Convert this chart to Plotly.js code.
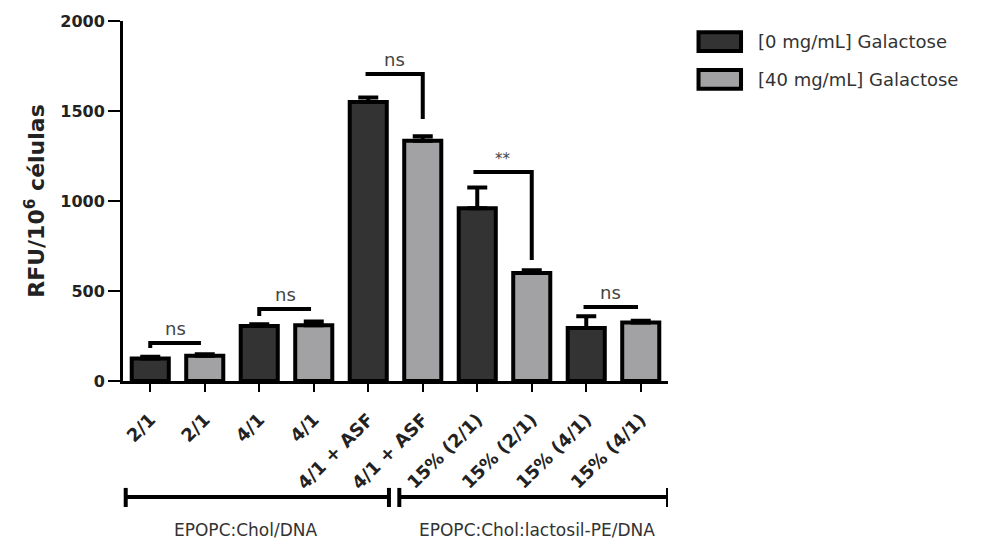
<!DOCTYPE html>
<html>
<head>
<meta charset="utf-8">
<script src="https://cdn.plot.ly/plotly-3.0.1.min.js"></script>
<style>html,body{margin:0;padding:0;background:#fff;}#chart{width:985px;height:545px;}</style>
</head>
<body>
<div id="chart"></div>
<script>
// ---- data ----
const tickLabels = ["2/1","2/1","4/1","4/1","4/1 + ASF","4/1 + ASF","15% (2/1)","15% (2/1)","15% (4/1)","15% (4/1)"];
const seriesNames = ["[0 mg/mL] Galactose","[40 mg/mL] Galactose"];
const xDark = [0,2,4,6,8];
const xLight = [1,3,5,7,9];
const valDark = [125,305,1550,960,295];
const errDark = [10,10,25,115,65];
const valLight = [140,310,1335,600,325];
const errLight = [8,20,25,15,10];
// significance brackets
const sigText = ["ns","ns","ns","**","ns"];
const sigX0 = [0,2,3.95,5.93,7.95];
const sigX1 = [0.93,2.95,5,7,8.95];
const sigY = [211,400,1706,1161,411];
const sigTickX = [0,2,5,7,null];
const sigTickEnd = [183,361,1456,672,null];
// groups under axis
const groupNames = ["EPOPC:Chol/DNA","EPOPC:Chol:lactosil-PE/DNA"];
const groupX0 = [-0.45,4.57];
const groupX1 = [4.38,9.5];
const groupTextX = [1.75,7.1];

const dark = '#333333', light = '#a2a2a5';
const F = '"DejaVu Sans", "Open Sans", sans-serif';

const traces = [
  {type:'bar', x:xDark, y:valDark, name:seriesNames[0], width:0.68,
   marker:{color:dark, line:{color:'#000', width:4}},
   error_y:{type:'data', array:errDark, arrayminus:errDark.map(()=>0), symmetric:false, color:'#000', thickness:4, width:10},
   showlegend:false},
  {type:'bar', x:xLight, y:valLight, name:seriesNames[1], width:0.68,
   marker:{color:light, line:{color:'#000', width:4}},
   error_y:{type:'data', array:errLight, arrayminus:errLight.map(()=>0), symmetric:false, color:'#000', thickness:4, width:10},
   showlegend:false}
];

const annotations = [];
for (let i = 0; i < sigText.length; i++) {
  const xs = [sigX0[i], sigX1[i]], ys = [sigY[i], sigY[i]];
  if (sigTickX[i] !== null) {
    if (sigTickX[i] <= sigX0[i]) { xs.unshift(sigTickX[i]); ys.unshift(sigTickEnd[i]); }
    else { xs.push(sigTickX[i]); ys.push(sigTickEnd[i]); }
  }
  traces.push({type:'scatter', mode:'lines', x:xs, y:ys, line:{color:'#000', width:4},
               hoverinfo:'skip', showlegend:false, cliponaxis:false});
  annotations.push({x:(sigX0[i]+sigX1[i])/2, y:sigY[i], xref:'x', yref:'y', text:sigText[i],
    showarrow:false, yanchor:'bottom', yshift:2,
    font:{family:F, size: sigText[i]==='**'?15:18, color:'#444'}});
}

const shapes = [];
for (let g = 0; g < groupNames.length; g++) {
  shapes.push({type:'line', xref:'x', yref:'paper', x0:groupX0[g], x1:groupX1[g], y0:-0.322, y1:-0.322, line:{color:'#000', width:4}});
  shapes.push({type:'line', xref:'x', yref:'paper', x0:groupX0[g], x1:groupX0[g], y0:-0.297, y1:-0.35, line:{color:'#000', width:4}});
  shapes.push({type:'line', xref:'x', yref:'paper', x0:groupX1[g], x1:groupX1[g], y0:-0.297, y1:-0.35, line:{color:'#000', width:4}});
  annotations.push({x:groupTextX[g], y:-0.415, xref:'x', yref:'paper', text:groupNames[g],
    showarrow:false, yanchor:'middle', font:{family:F, size:17, color:'#333'}});
}

// legend (drawn manually)
const legColors = [dark, light];
const legY = [0.943, 0.838];
for (let k = 0; k < seriesNames.length; k++) {
  shapes.push({type:'rect', xref:'paper', yref:'paper', x0:1.056, x1:1.134, y0:legY[k]-0.026, y1:legY[k]+0.026,
    fillcolor:legColors[k], line:{color:'#000', width:4}});
  annotations.push({xref:'paper', yref:'paper', x:1.162, y:legY[k], xanchor:'left', yanchor:'middle',
    text:seriesNames[k], showarrow:false, font:{family:F, size:18, color:'#333'}});
}

const layout = {
  width:985, height:545,
  margin:{l:123, r:317, t:21, b:164},
  paper_bgcolor:'#fff', plot_bgcolor:'#fff',
  showlegend:false,
  bargap:0,
  xaxis:{range:[-0.5,9.5], tickmode:'array', tickvals:tickLabels.map((_,i)=>i), ticktext:tickLabels,
    tickangle:-45, showline:true, linecolor:'#000', linewidth:3, ticks:'outside', ticklen:8, tickwidth:2,
    tickcolor:'#000', showgrid:false, zeroline:false, automargin:false, ticklabelstandoff:10,
    tickfont:{family:F, size:18, color:'#222', weight:'bold'}},
  yaxis:{range:[0,2000], tickvals:[0,500,1000,1500,2000], showline:true, linecolor:'#000', linewidth:3,
    ticks:'outside', ticklen:12, tickwidth:2, tickcolor:'#000', showgrid:false, zeroline:false, automargin:false,
    tickfont:{family:F, size:16, color:'#222', weight:'bold'},
    title:{text:'RFU/10<sup>6</sup> células', font:{family:F, size:22, color:'#222', weight:'bold'}, standoff:10}},
  annotations:annotations,
  shapes:shapes
};

Plotly.newPlot('chart', traces, layout, {displayModeBar:false, staticPlot:true});
</script>
</body>
</html>
